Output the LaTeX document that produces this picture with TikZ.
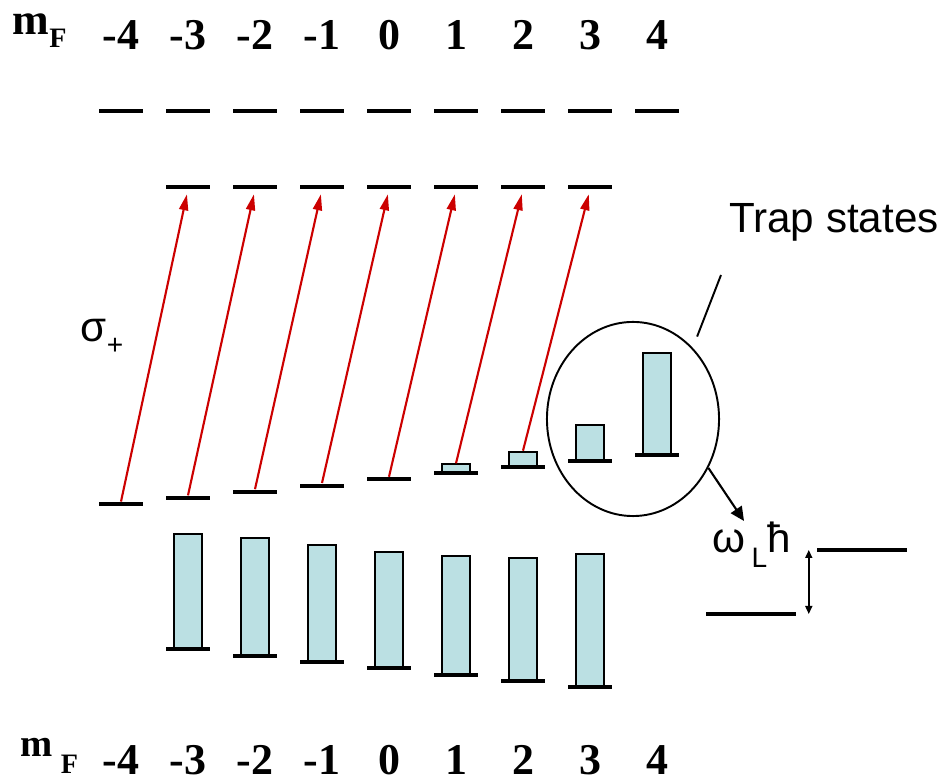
\documentclass[tikz,border=0pt]{standalone}
\usepackage{fontspec}
\setmainfont{Liberation Serif}
\setsansfont{Liberation Sans}
\usepackage{tikz}
\usetikzlibrary{shapes.geometric, arrows.meta, positioning}
\usepackage{xcolor}
\definecolor{trapblue}{HTML}{BBE0E3}
\definecolor{pumpred}{HTML}{CC0000}
\tikzset{
  lvline/.style={
    rectangle, fill=black, inner sep=0pt,
    minimum width=0.43cm, minimum height=0.04cm
  },
  popbar/.style={
    rectangle, draw=black, line width=0.55pt, fill=trapblue,
    inner sep=0pt, minimum width=0.28cm, anchor=north
  },
  mflabel/.style={font=\bfseries\fontsize{12.5}{15}\selectfont, anchor=base, inner sep=0pt},
  sanslabel/.style={font=\sffamily\fontsize{12}{14}\selectfont, anchor=base west, inner sep=0pt},
  pump/.style={-{Triangle[length=0.16cm, width=0.09cm]}, draw=pumpred, line width=0.6pt, shorten >=0.05cm},
  arrow/.style={-{Triangle[length=0.14cm, width=0.13cm]}, line width=0.6pt}
}

\begin{document}
\begin{tikzpicture}[x=0.01cm, y=-0.01cm]
  \useasboundingbox (0,0) rectangle (942,780);

  % m_F labels, top and bottom
  \node[mflabel, anchor=base west] (mftop) at (12,35) {m\raisebox{-0.13cm}{\fontsize{8}{8}\selectfont F}};
  \node[mflabel, anchor=base west, font=\bfseries\fontsize{11}{13}\selectfont] (mfbot) at (20,757) {m\kern0.08cm\raisebox{-0.16cm}{\fontsize{8}{8}\selectfont F}};
  \foreach \m in {-4,...,4} {
    \node[mflabel] (top\m) at ({389+67*\m},50) {\m};
    \node[mflabel] (bot\m) at ({389+67*\m},775) {\m};
  }

  % excited levels
  \foreach \m in {-4,...,4}
    \node[lvline] (u\m) at ({389+67*\m},110.7) {};
  \foreach \m in {-3,...,3}
    \node[lvline] (e\m) at ({389+67*\m},186.7) {};

  % trapped populations on the shifted ground levels
  \foreach \m/\yt in {1/463.3, 2/450.7, 3/424.3, 4/352.3}
    \node[popbar, minimum height={(479.5-6.2*\m-\yt)*0.01cm}] (t\m) at ({389+67*\m},\yt) {};
  \foreach \m in {-4,...,4}
    \node[lvline] (g\m) at ({389+67*\m},{479.5-6.2*\m}) {};

  % lower ground levels
  \foreach \m/\yt in {-3/532.7, -2/537.3, -1/544.3, 0/551, 1/555, 2/557.3, 3/553}
    \node[popbar, minimum height={(668.3+6.3*\m-\yt)*0.01cm}] (p\m) at ({389+67*\m},\yt) {};
  \foreach \m in {-3,...,3}
    \node[lvline] (f\m) at ({389+67*\m},{668.3+6.3*\m}) {};

  % sigma+ pumping
  \foreach \m/\n in {-4/-3, -3/-2, -2/-1, -1/0, 0/1}
    \draw[pump] (g\m.north) -- (e\n.south);
  \draw[pump] (t1.north) -- (e2.south);
  \draw[pump] (t2.north) -- (e3.south);

  \node[sanslabel] (sigma) at (80,342) {σ\raisebox{-0.13cm}{\fontsize{8}{8}\selectfont +}};

  % trap states
  \node[draw, ellipse, line width=0.55pt, inner sep=0pt,
        minimum width=1.72cm, minimum height=1.94cm] (trap) at (633,419) {};
  \node[sanslabel, anchor=base] (traplbl) at (834,233) {Trap states};
  \coordinate (lblfoot) at (721,275);
  \draw[line width=0.55pt, shorten <=0.12cm] (trap.50) -- (lblfoot);

  % light shift
  \node[sanslabel] (omega) at (712,553) {ω\kern0.06cm\raisebox{-0.15cm}{\fontsize{8}{8}\selectfont L}ħ};
  \coordinate (wtip) at (744,521);
  \draw[arrow] (trap.-33) -- (wtip);

  \node[lvline, minimum width=0.89cm] (hiside) at (862,550) {};
  \node[lvline, minimum width=0.89cm] (loside) at (751,614) {};
  \coordinate (gapx) at ([xshift=-0.08cm]hiside.west);
  \draw[{Triangle[length=0.08cm, width=0.07cm]}-{Triangle[length=0.08cm, width=0.07cm]}, line width=0.45pt]
    (gapx) -- (gapx |- loside);

\end{tikzpicture}
\end{document}
